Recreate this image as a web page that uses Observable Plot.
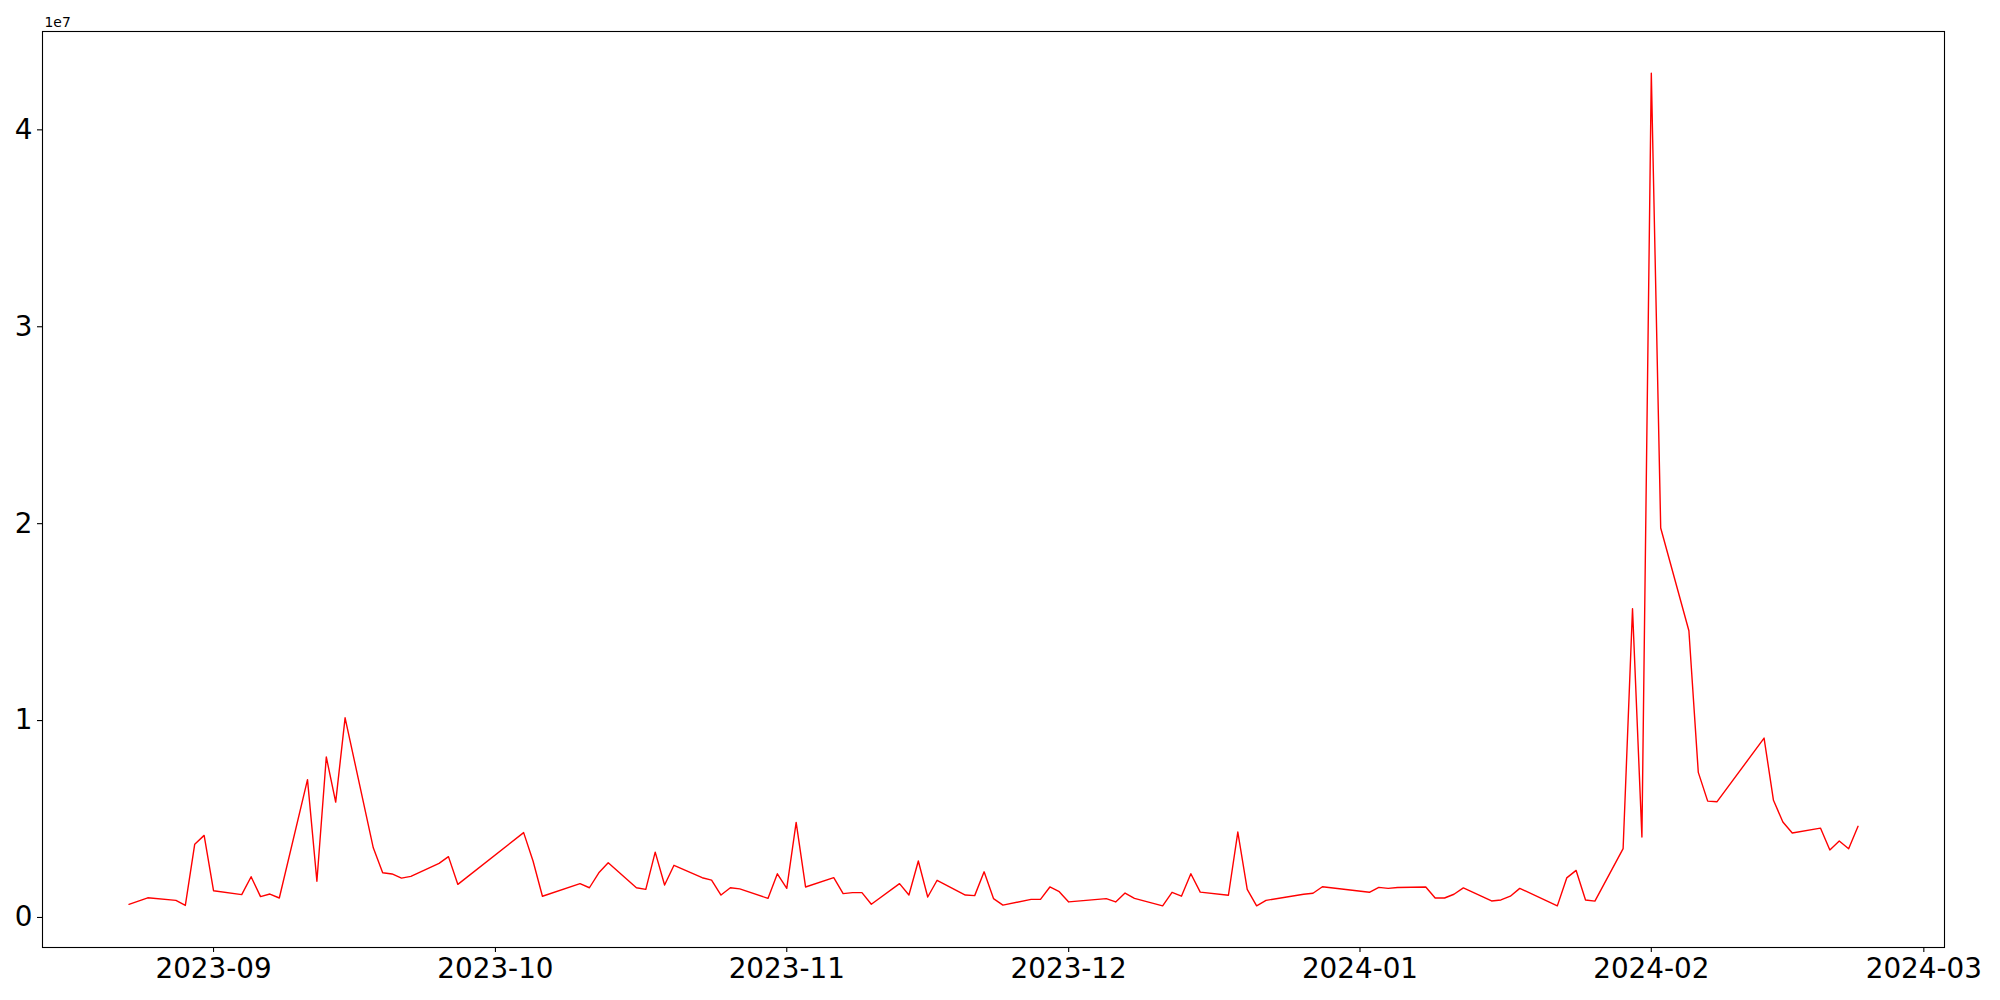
<!DOCTYPE html>
<html>
<head>
<meta charset="utf-8">
<script src="https://cdn.jsdelivr.net/npm/d3@7"></script>
<script src="https://cdn.jsdelivr.net/npm/@observablehq/plot@0.6"></script>
<style>
html, body { margin: 0; padding: 0; background: #fff; }
#chart { width: 2000px; height: 1000px; }
</style>
</head>
<body>
<div id="chart"></div>
<script>
const dates = [
  "2023-08-23","2023-08-25","2023-08-28","2023-08-29","2023-08-30","2023-08-31",
  "2023-09-01","2023-09-04","2023-09-05","2023-09-06","2023-09-07","2023-09-08",
  "2023-09-11","2023-09-12","2023-09-13","2023-09-14","2023-09-15",
  "2023-09-18","2023-09-19","2023-09-20","2023-09-21","2023-09-22",
  "2023-09-25","2023-09-26","2023-09-27",
  "2023-10-04","2023-10-05","2023-10-06",
  "2023-10-10","2023-10-11","2023-10-12","2023-10-13",
  "2023-10-16","2023-10-17","2023-10-18","2023-10-19","2023-10-20",
  "2023-10-23","2023-10-24","2023-10-25","2023-10-26","2023-10-27",
  "2023-10-30","2023-10-31","2023-11-01","2023-11-02","2023-11-03",
  "2023-11-06","2023-11-07","2023-11-08","2023-11-09","2023-11-10",
  "2023-11-13","2023-11-14","2023-11-15","2023-11-16","2023-11-17",
  "2023-11-20","2023-11-21","2023-11-22","2023-11-23","2023-11-24",
  "2023-11-27","2023-11-28","2023-11-29","2023-11-30","2023-12-01",
  "2023-12-05","2023-12-06","2023-12-07","2023-12-08",
  "2023-12-11","2023-12-12","2023-12-13","2023-12-14","2023-12-15",
  "2023-12-18","2023-12-19","2023-12-20","2023-12-21","2023-12-22",
  "2023-12-26","2023-12-27","2023-12-28",
  "2024-01-02","2024-01-03","2024-01-04","2024-01-05",
  "2024-01-08","2024-01-09","2024-01-10","2024-01-11","2024-01-12",
  "2024-01-15","2024-01-16","2024-01-17","2024-01-18",
  "2024-01-22","2024-01-23","2024-01-24","2024-01-25","2024-01-26",
  "2024-01-29","2024-01-30","2024-01-31","2024-02-01","2024-02-02",
  "2024-02-05","2024-02-06","2024-02-07","2024-02-08",
  "2024-02-13","2024-02-14","2024-02-15","2024-02-16",
  "2024-02-19","2024-02-20","2024-02-21","2024-02-22","2024-02-23"
];
const volumes = [
  670000, 1000000, 870000, 610000, 3720000, 4170000,
  1360000, 1160000, 2070000, 1060000, 1190000, 990000,
  7000000, 1840000, 8150000, 5860000, 10140000,
  3540000, 2270000, 2210000, 2000000, 2090000,
  2750000, 3090000, 1680000,
  4310000, 2870000, 1080000,
  1720000, 1510000, 2270000, 2780000,
  1510000, 1430000, 3320000, 1650000, 2650000,
  2020000, 1900000, 1140000, 1510000, 1450000,
  970000, 2220000, 1480000, 4830000, 1550000,
  2020000, 1210000, 1260000, 1260000, 670000,
  1720000, 1140000, 2870000, 1040000, 1890000,
  1140000, 1110000, 2320000, 960000, 630000,
  920000, 920000, 1550000, 1310000, 790000,
  960000, 790000, 1240000, 970000,
  590000, 1280000, 1080000, 2220000, 1290000,
  1130000, 4340000, 1430000, 590000, 870000,
  1180000, 1230000, 1560000,
  1280000, 1530000, 1480000, 1520000,
  1550000, 990000, 990000, 1180000, 1500000,
  840000, 890000, 1080000, 1480000,
  590000, 2010000, 2390000, 890000, 830000,
  3500000, 15680000, 4090000, 42880000, 19780000,
  14560000, 7370000, 5910000, 5880000,
  9110000, 5950000, 4850000, 4290000,
  4540000, 3430000, 3880000, 3490000, 4630000
];
const yTicks = [0, 10000000, 20000000, 30000000, 40000000];
const yTickLabels = ["0", "1", "2", "3", "4"];
const xTicks = ["2023-09-01","2023-10-01","2023-11-01","2023-12-01","2024-01-01","2024-02-01","2024-03-01"];
const xTickLabels = ["2023-09","2023-10","2023-11","2023-12","2024-01","2024-02","2024-03"];
const offsetLabel = "1e7";

const data = dates.map((d, i) => ({date: new Date(d + "T00:00:00Z"), value: volumes[i]}));
const xTickDates = xTicks.map(d => new Date(d + "T00:00:00Z"));

// matplotlib-style 5% autoscale margins
const [tMin, tMax] = d3.extent(data, d => +d.date);
const tPad = 0.05 * (tMax - tMin);
const [vMin, vMax] = d3.extent(data, d => d.value);
const vPad = 0.05 * (vMax - vMin);

const font = "DejaVu Sans";
const chart = Plot.plot({
  width: 2000,
  height: 1000,
  marginLeft: 42,
  marginRight: 56,
  marginTop: 31,
  marginBottom: 53,
  style: {fontFamily: font, background: "white", color: "black", overflow: "visible"},
  x: {type: "utc", domain: [new Date(tMin - tPad), new Date(tMax + tPad)], label: null},
  y: {domain: [vMin - vPad, vMax + vPad], label: null},
  marks: [
    Plot.line(data, {x: "date", y: "value", stroke: "red", strokeWidth: 1.4}),
    Plot.frame({stroke: "black", strokeWidth: 1.1}),
    Plot.axisX({
      ticks: xTickDates,
      tickFormat: d => xTickLabels[xTickDates.findIndex(t => +t === +d)],
      tickSize: 5, tickPadding: 6, fontSize: 27.8, strokeWidth: 1.1, label: null
    }),
    Plot.axisY({
      ticks: yTicks,
      tickFormat: d => yTickLabels[yTicks.indexOf(d)],
      tickSize: 5, tickPadding: 5, fontSize: 27.8, strokeWidth: 1.1, label: null
    }),
    Plot.text([offsetLabel], {
      text: d => d, frameAnchor: "top-left", dy: -5, dx: 2,
      textAnchor: "start", lineAnchor: "bottom", fontSize: 13.9
    })
  ]
});
document.getElementById("chart").appendChild(chart);
</script>
</body>
</html>
